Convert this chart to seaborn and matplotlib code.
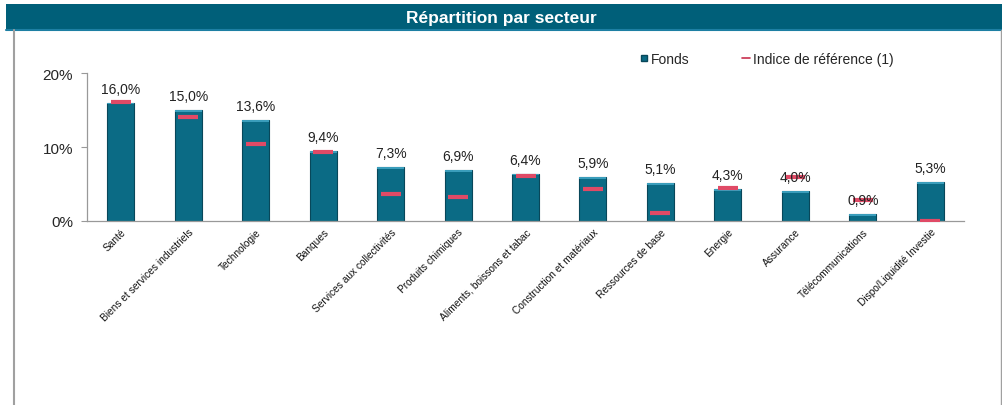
import matplotlib
matplotlib.use("Agg")
import matplotlib.pyplot as plt
from matplotlib.patches import Rectangle
from matplotlib.lines import Line2D
import seaborn as sns
import pandas as pd

categories = ["Santé", "Biens et services industriels", "Technologie", "Banques",
              "Services aux collectivités", "Produits chimiques",
              "Aliments, boissons et tabac", "Construction et matériaux",
              "Ressources de base", "Energie", "Assurance",
              "Télécommunications", "Dispo/Liquidité Investie"]
fonds = [16.0, 15.0, 13.6, 9.4, 7.3, 6.9, 6.4, 5.9, 5.1, 4.3, 4.0, 0.9, 5.3]
indice = [16.1, 14.0, 10.4, 9.3, 3.6, 3.3, 6.1, 4.3, 1.1, 4.4, 6.0, 2.9, 0.0]
y_ticks = [0, 10, 20]
y_tick_labels = ["0%", "10%", "20%"]

df = pd.DataFrame({"secteur": categories, "fonds": fonds, "indice": indice})

sns.set_style("white")
plt.rcParams["font.family"] = ["Liberation Sans", "DejaVu Sans"]

fig = plt.figure(figsize=(10.02, 4.06), dpi=100)
ax = fig.add_axes([87/1002, 1-222/406, (964-87)/1002, 148/406])

bar_col = "#0B6B85"
sns.barplot(data=df, x="secteur", y="fonds", color=bar_col, width=0.4,
            edgecolor="#08475A", linewidth=0.8, saturation=1, ax=ax)
# light top highlight on each bar
for p in ax.patches:
    h = p.get_height()
    ax.add_patch(Rectangle((p.get_x(), h - 0.25), p.get_width(), 0.25,
                           facecolor="#3A9DBB", edgecolor="none", zorder=3))

sns.scatterplot(data=df, x="secteur", y="indice", marker="_", s=220,
                linewidth=3.0, color="#E04A66", zorder=5, ax=ax, legend=False)

for i, v in enumerate(fonds):
    ax.annotate(f"{v:.1f}%".replace(".", ","), (i, v), xytext=(0, 5),
                textcoords="offset points", ha="center", va="bottom",
                fontsize=10, color="#222222", zorder=6)

ax.set_ylim(0, 20)
ax.set_xlim(-0.5, len(categories) - 0.5)
ax.set_yticks(y_ticks)
ax.set_yticklabels(y_tick_labels, fontsize=11)
ax.set_xlabel("")
ax.set_ylabel("")
ax.set_xticks(range(len(categories)))
ax.set_xticklabels(categories, rotation=45, ha="right", rotation_mode="anchor",
                   fontsize=7.3, color="#111111")
ax.set_xticks([i - 0.5 for i in range(len(categories) + 1)], minor=True)
ax.tick_params(axis="x", which="major", length=0, pad=4)
ax.tick_params(axis="x", which="minor", length=4, color="#999999", width=0.8)
ax.tick_params(axis="y", length=4, color="#999999", width=0.8, pad=6, left=True)
for s in ["top", "right"]:
    ax.spines[s].set_visible(False)
for s in ["left", "bottom"]:
    ax.spines[s].set_color("#999999")
    ax.spines[s].set_linewidth(0.9)

# title bar and frame
fig.patches.append(Rectangle((6/1002, 1-31/406), 1 - 6/1002, 26/406,
                             transform=fig.transFigure, facecolor="#005F79",
                             edgecolor="none", zorder=0))
fig.lines.append(Line2D([6/1002, 1], [1-31/406, 1-31/406], transform=fig.transFigure,
                        color="#1D7FA3", linewidth=1.5))
fig.lines.append(Line2D([14/1002, 14/1002], [0, 1-31/406], transform=fig.transFigure,
                        color="#A0A0A0", linewidth=1.5))
fig.lines.append(Line2D([1000.5/1002, 1000.5/1002], [0, 1-31/406], transform=fig.transFigure,
                        color="#A0A0A0", linewidth=1.0))
fig.text(0.5, 1-18/406, "Répartition par secteur", ha="center", va="center",
         color="white", fontsize=12.5, fontweight="bold")

handles = [Line2D([], [], marker="s", linestyle="none", markersize=5,
                  markerfacecolor=bar_col, markeredgecolor="#08475A"),
           Line2D([], [], color="#C8304E", linewidth=1.2)]
fig.legend(handles, ["Fonds", "Indice de référence (1)"], loc="center left",
           bbox_to_anchor=(627/1002, 1-60/406), ncol=2, frameon=False,
           fontsize=10, handlelength=0.6, handletextpad=0.2, columnspacing=3.8)

fig.savefig("out.png", dpi=100)
